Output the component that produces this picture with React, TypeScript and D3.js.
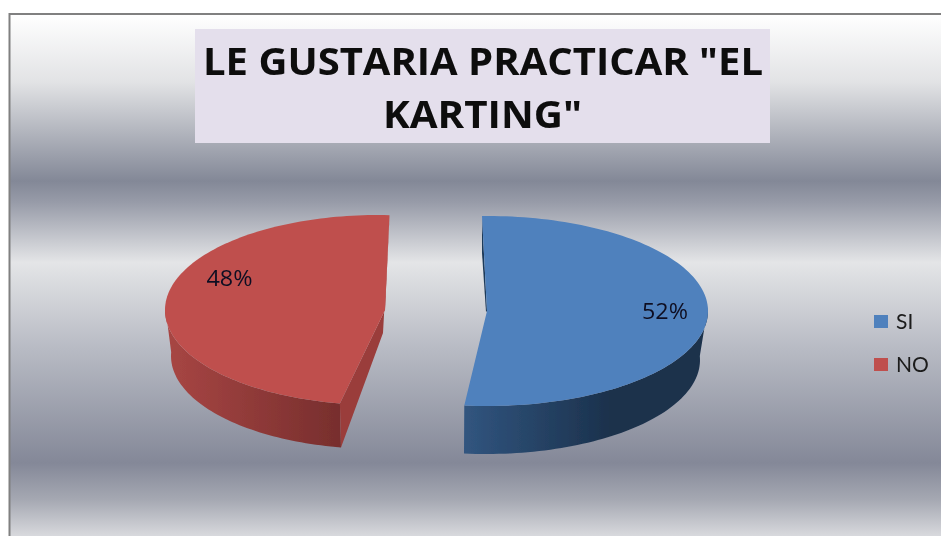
import React from "react";
import * as d3 from "d3";

const categories = ["SI", "NO"];
const values = [52, 48];
const labels = ["52%", "48%"];
const titleLines = ['LE GUSTARIA PRACTICAR "EL', "KARTING\""];
const topColors = ["#4f81bd", "#bf504d"];
const cutColors = ["#1e3a5a", "#9a3d3b"];
const sideStops = [["#31557f", "#1b314c"], ["#a84644", "#772e2d"]];
const bgStops: [number, string][] = [
  [0, "#ffffff"], [0.13, "#e2e3e5"], [0.32, "#838897"], [0.36, "#979ba8"], [0.476, "#e4e5e7"],
  [0.64, "#b8bbc4"], [0.86, "#848898"], [0.93, "#a5a8b2"], [1, "#d8d9dd"],
];

const W = 941, H = 536;
const rad = Math.PI / 180;
const slices = [
  { cx: 487, cy: 311, rx: 221, ry: 95, bcx: 486, bcy: 360, brx: 214, bry: 94, rot: 0, apexX: 487, apexY: 311, cutX: 486, cutY: 312 },
  { cx: 378, cy: 310, rx: 213, ry: 95, bcx: 378, bcy: 356, brx: 207, bry: 93, rot: 4.4, apexX: 385, apexY: 310, cutX: 383, cutY: 333 },
];

export default function App() {
  const pie = d3.pie<number>().sort(null).startAngle(-1.3 * rad).endAngle(358.7 * rad);
  const arcs = pie(values);
  const line = d3.line();
  const bgScale = d3.scaleLinear().domain([0, 1]).range([14, H]);

  const shapes = arcs.map((a, i) => {
    const s = slices[i];
    const t0 = a.startAngle + s.rot * rad;
    const t1 = a.endAngle + s.rot * rad;
    const ts = d3.range(0, 121).map((k) => t0 + ((t1 - t0) * k) / 120);
    const top = ts.map((t) => [s.cx + s.rx * Math.sin(t), s.cy - s.ry * Math.cos(t)] as [number, number]);
    const bot = ts.map((t) => [s.bcx + s.brx * Math.sin(t), s.bcy - s.bry * Math.cos(t)] as [number, number]);
    const vis = ts.map((t, k) => [t, k] as [number, number]).filter(([t]) => Math.cos(t) < 0.05);
    const sideTop = vis.map(([, k]) => top[k]);
    const sideBot = vis.map(([, k]) => bot[k]);
    const side = line([...sideTop, ...sideBot.slice().reverse()]) + "Z";
    const face = line([...top, [s.apexX, s.apexY]]) + "Z";
    const upper = i === 0 ? top[0] : top[120];
    const tip = i === 0 ? top[120] : top[0];
    const tipBot = i === 0 ? bot[120] : bot[0];
    const cut =
      i === 0
        ? line([upper, [482, 253], [s.cutX, s.cutY], [s.apexX, s.apexY]]) + "Z"
        : line([upper, [s.cutX, s.cutY], [tipBot[0], tipBot[1]], tip, [s.apexX, s.apexY]]) + "Z";
    return { side, face, cut };
  });

  return (
    <svg width={W} height={H} style={{ position: "absolute", left: 0, top: 0, display: "block" }}>
      <defs>
        <linearGradient id="bg" x1="0" y1="0" x2="0" y2="1">
          {bgStops.map(([o, c], i) => <stop key={i} offset={o} stopColor={c} />)}
        </linearGradient>
        {sideStops.map((st, i) => (
          <linearGradient key={i} id={`side${i}`} x1="0" y1="0" x2="1" y2="0">
            <stop offset="0" stopColor={st[0]} />
            <stop offset={i === 0 ? 0.6 : 1} stopColor={st[1]} />
            <stop offset="1" stopColor={st[1]} />
          </linearGradient>
        ))}
        <filter id="soft" x="-5%" y="-5%" width="110%" height="110%">
          <feGaussianBlur stdDeviation="0.5" />
        </filter>
      </defs>
      <rect x={0} y={0} width={W} height={H} fill="#ffffff" />
      <rect x={9} y={bgScale(0)} width={W - 9} height={H - 14} fill="url(#bg)" />
      <path d={`M9.5,${H}V14H${W}`} fill="none" stroke="#808080" strokeWidth={2} />
      <rect x={195} y={29} width={575} height={114} fill="#e4dfec" />
      <g fontFamily="'Open Sans', Lato, sans-serif" fontWeight={700} fontSize={38} textAnchor="middle" fill="#0a0a0a" filter="url(#soft)">
        <text x={483} y={75} textLength={560} lengthAdjust="spacingAndGlyphs">{titleLines[0]}</text>
        <text x={482.5} y={128} textLength={199} lengthAdjust="spacingAndGlyphs">{titleLines[1]}</text>
      </g>
      <g filter="url(#soft)">
        {shapes.map((p, i) => (
          <g key={categories[i]}>
            <path d={p.side} fill={`url(#side${i})`} />
            <path d={p.cut} fill={cutColors[i]} />
            <path d={p.face} fill={topColors[i]} />
          </g>
        ))}
      </g>
      <g fontFamily="'Open Sans', Lato, sans-serif" fontSize={21} textAnchor="middle" fill="#111122" filter="url(#soft)">
        <text x={665} y={319} textLength={46} lengthAdjust="spacingAndGlyphs">{labels[0]}</text>
        <text x={229.5} y={286} textLength={46} lengthAdjust="spacingAndGlyphs">{labels[1]}</text>
      </g>
      <g fontFamily="Lato, 'Open Sans', sans-serif" fontSize={21} fill="#1a1a1a" filter="url(#soft)">
        {categories.map((c, i) => (
          <g key={c}>
            <rect x={874} y={315 + i * 43} width={14} height={13} fill={topColors[i]} />
            <text x={896} y={329 + i * 43}>{c}</text>
          </g>
        ))}
      </g>
    </svg>
  );
}
